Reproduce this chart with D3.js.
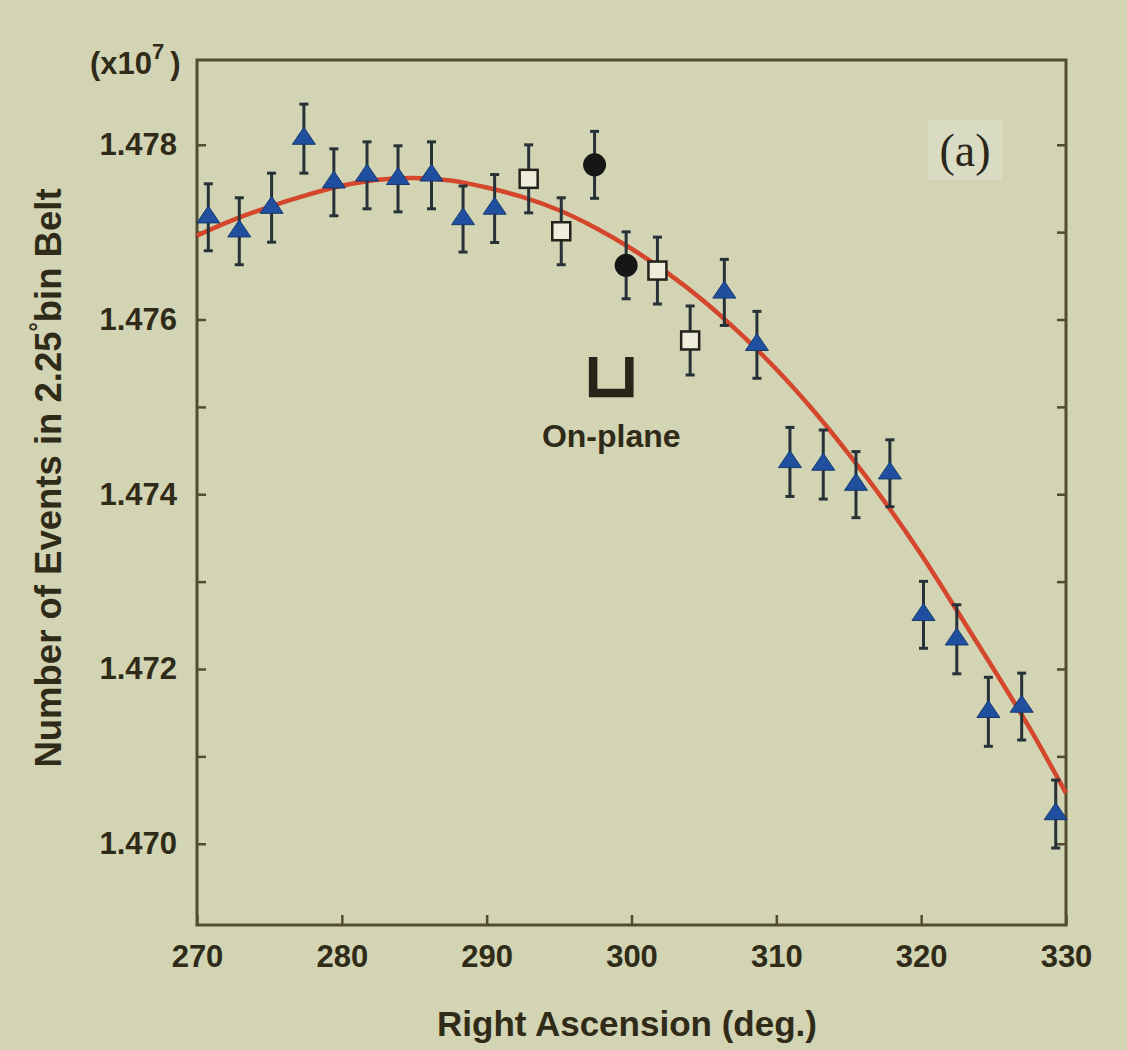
<!DOCTYPE html>
<html>
<head>
<meta charset="utf-8">
<script src="https://cdn.jsdelivr.net/npm/d3@7"></script>
<style>
  html, body { margin: 0; padding: 0; background: #d2d4b3; }
  svg { display: block; }
  text { font-family: "Liberation Sans", Arial, Helvetica, sans-serif; }
</style>
</head>
<body>
<svg id="chart" width="1127" height="1050"></svg>
<script>
// ---------- data ----------
// Off-plane bins (blue triangles)
const triRA  = [270.78, 272.92, 275.15, 277.38, 279.45, 281.74, 283.88, 286.19, 288.37, 290.55,
                306.41, 308.66, 310.94, 313.24, 315.50, 317.84, 320.16, 322.46, 324.64, 326.94, 329.29];
const triVal = [1.47717, 1.47701, 1.47728, 1.47807, 1.47757, 1.47765, 1.47761, 1.47765, 1.47715, 1.47727,
                1.47631, 1.47571, 1.47437, 1.47434, 1.47411, 1.47424, 1.47262, 1.47234, 1.47151, 1.47157, 1.47034];
const triErr = [0.000383, 0.000383, 0.000395, 0.000395, 0.000383, 0.000383, 0.000378, 0.000383, 0.000378, 0.000389,
                0.000378, 0.000383, 0.000395, 0.000395, 0.000378, 0.000383, 0.000383, 0.000395, 0.000395, 0.000383, 0.000389];
// Near-plane bins (open squares)
const sqRA  = [292.90, 295.15, 301.79, 304.05];
const sqVal = [1.47761, 1.47701, 1.47656, 1.47576];
const sqErr = [0.000389, 0.000383, 0.000383, 0.000395];
// On-plane bins (filled circles)
const circRA  = [297.45, 299.63];
const circVal = [1.47777, 1.47662];
const circErr = [0.000383, 0.000383];
// Fitted curve
const fitRA  = [270, 272.5, 275, 277.5, 280, 282.5, 285, 287.5, 290, 292.5, 295, 297.5, 300,
                302.5, 305, 307.5, 310, 312.5, 315, 317.5, 320, 322.5, 325, 327.5, 330];
const fitVal = [1.47696, 1.47714, 1.47729, 1.47742, 1.47753, 1.47760, 1.47762, 1.47759, 1.47751, 1.47740,
                1.47725, 1.47705, 1.47681, 1.47653, 1.47621, 1.47584, 1.47543, 1.47497, 1.47446, 1.47391,
                1.47331, 1.47266, 1.47200, 1.47132, 1.47058];
// Axes
const xTicks = [270, 280, 290, 300, 310, 320, 330];
const yTicks = [1.470, 1.472, 1.474, 1.476, 1.478];
const yMinorTicks = [1.470, 1.471, 1.472, 1.473, 1.474, 1.475, 1.476, 1.477, 1.478];
const onPlaneRange = [297.35, 299.85];
const onPlaneBracket = [1.47557, 1.47516];

// ---------- layout ----------
const L = 197, R = 1066, T = 60, B = 925;
const axisColor = "#544c30";
const textColor = "#2f2b18";

const svg = d3.select("#chart");
svg.append("rect").attr("width", 1127).attr("height", 1050).attr("fill", "#d2d4b3");

const x = d3.scaleLinear().domain([270, 330]).range([L, R]);
const y = d3.scaleLinear().domain([1.46907, 1.47897]).range([B, T]);

// label box for (a)
svg.append("rect").attr("x", 928).attr("y", 120).attr("width", 74).attr("height", 60)
  .attr("fill", "#d9dbc3");
svg.append("text").attr("x", 965).attr("y", 166).attr("text-anchor", "middle")
  .style("font-family", "'Liberation Serif', 'DejaVu Serif', serif")
  .attr("font-size", 46).attr("fill", "#2a2618").text("(a)");

// ---------- axes ----------
const gx = svg.append("g").attr("transform", `translate(0,${B})`)
  .call(d3.axisBottom(x).tickValues(xTicks).tickSize(-10).tickPadding(20).tickFormat(d3.format("d")));
const gyL = svg.append("g").attr("transform", `translate(${L},0)`)
  .call(d3.axisLeft(y).tickValues(yMinorTicks).tickSize(-9).tickPadding(20)
    .tickFormat(d => yTicks.some(t => Math.abs(t - d) < 1e-9) ? d3.format(".3f")(d) : ""));
const gyR = svg.append("g").attr("transform", `translate(${R},0)`)
  .call(d3.axisRight(y).tickValues(yMinorTicks).tickSize(-9).tickFormat(""));

[gx, gyL, gyR].forEach(g => {
  g.select(".domain").remove();
  g.selectAll(".tick line").attr("stroke", axisColor).attr("stroke-width", 2.5);
  g.selectAll(".tick text").attr("fill", textColor).attr("font-size", 31).attr("font-weight", "bold")
    .style("font-family", "'Liberation Sans', Arial, sans-serif");
});
gx.selectAll(".tick text").attr("dy", "0.71em");

// frame
svg.append("rect").attr("x", L).attr("y", T).attr("width", R - L).attr("height", B - T)
  .attr("fill", "none").attr("stroke", axisColor).attr("stroke-width", 3);

// ---------- fit curve ----------
const fit = fitRA.map((r, i) => [r, fitVal[i]]);
svg.append("path").datum(fit)
  .attr("d", d3.line().x(d => x(d[0])).y(d => y(d[1])).curve(d3.curveCatmullRom))
  .attr("fill", "none").attr("stroke", "#d5472c").attr("stroke-width", 4.5);

// ---------- error bars ----------
function errBars(ra, val, err) {
  const g = svg.append("g").attr("stroke", "#263238").attr("stroke-width", 3).attr("fill", "none");
  ra.forEach((r, i) => {
    const cx = x(r), y1 = y(val[i] + err[i]), y2 = y(val[i] - err[i]);
    g.append("line").attr("x1", cx).attr("x2", cx).attr("y1", y1).attr("y2", y2);
    g.append("line").attr("x1", cx - 4.5).attr("x2", cx + 4.5).attr("y1", y1).attr("y2", y1);
    g.append("line").attr("x1", cx - 4.5).attr("x2", cx + 4.5).attr("y1", y2).attr("y2", y2);
  });
}
errBars(triRA, triVal, triErr);
errBars(sqRA, sqVal, sqErr);
errBars(circRA, circVal, circErr);

// ---------- markers ----------
const tw = 23, th = 17;
const triPath = `M0,${-2 * th / 3}L${tw / 2},${th / 3}L${-tw / 2},${th / 3}Z`;
svg.append("g").selectAll("path").data(triRA).join("path")
  .attr("d", triPath)
  .attr("transform", (r, i) => `translate(${x(r)},${y(triVal[i])})`)
  .attr("fill", "#1f4f9e").attr("stroke", "#173a70").attr("stroke-width", 1);

svg.append("g").selectAll("rect").data(sqRA).join("rect")
  .attr("x", r => x(r) - 9).attr("y", (r, i) => y(sqVal[i]) - 9)
  .attr("width", 18).attr("height", 18)
  .attr("fill", "#eeeddc").attr("stroke", "#23231c").attr("stroke-width", 2.5);

svg.append("g").selectAll("circle").data(circRA).join("circle")
  .attr("cx", r => x(r)).attr("cy", (r, i) => y(circVal[i])).attr("r", 11.5)
  .attr("fill", "#161616");

// ---------- on-plane bracket ----------
const bx0 = x(onPlaneRange[0]), bx1 = x(onPlaneRange[1]);
const by0 = y(onPlaneBracket[0]), by1 = y(onPlaneBracket[1]);
svg.append("path")
  .attr("d", `M${bx0},${by0}L${bx0},${by1}L${bx1},${by1}L${bx1},${by0}`)
  .attr("fill", "none").attr("stroke", "#27241a").attr("stroke-width", 8.5);
svg.append("text").attr("x", (bx0 + bx1) / 2).attr("y", 447).attr("text-anchor", "middle")
  .attr("font-size", 32).attr("font-weight", "bold").attr("fill", textColor).text("On-plane");

// ---------- titles ----------
svg.append("text").attr("x", 627).attr("y", 1036).attr("text-anchor", "middle")
  .attr("font-size", 35).attr("font-weight", "bold").attr("fill", textColor)
  .text("Right Ascension (deg.)");

const yt = svg.append("text").attr("transform", "translate(61,478) rotate(-90)")
  .attr("text-anchor", "middle").attr("font-size", 36.5).attr("font-weight", "bold").attr("fill", textColor);
yt.append("tspan").text("Number of Events in 2.25");
yt.append("tspan").attr("dy", -15).attr("font-size", 23).text("\u00B0");
yt.append("tspan").attr("dy", 15).text("bin Belt");

const ex = svg.append("text").attr("x", 90).attr("y", 74).attr("font-size", 31)
  .attr("font-weight", "bold").attr("fill", textColor);
ex.append("tspan").text("(x10");
ex.append("tspan").attr("dy", -15).attr("font-size", 22).text("7");
ex.append("tspan").attr("dy", 15).attr("dx", 6).text(")");
</script>
</body>
</html>
